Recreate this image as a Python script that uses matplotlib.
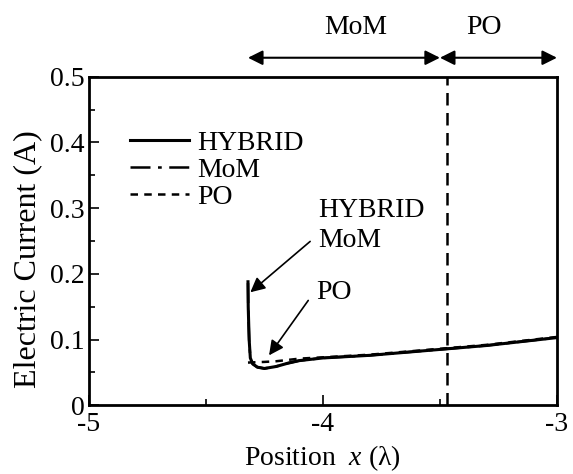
import glob
import matplotlib
matplotlib.use("Agg")
import matplotlib.pyplot as plt
from matplotlib import font_manager
from matplotlib.ticker import MultipleLocator

# pick a Times-like serif font
serif_name = None
for path in glob.glob("/usr/share/fonts/**/LiberationSerif-Regular.ttf", recursive=True) + \
        glob.glob("/usr/**/fonts/**/LiberationSerif-Regular.ttf", recursive=True):
    font_manager.fontManager.addfont(path)
    for extra in ("Bold", "Italic", "BoldItalic"):
        for p in glob.glob(path.replace("Regular", extra)):
            font_manager.fontManager.addfont(p)
    serif_name = font_manager.FontProperties(fname=path).get_name()
    break
if serif_name is None:
    names = {f.name for f in font_manager.fontManager.ttflist}
    serif_name = "Liberation Serif" if "Liberation Serif" in names else "STIXGeneral"

plt.rcParams["font.family"] = [serif_name, "DejaVu Serif"]
plt.rcParams["mathtext.fontset"] = "custom"
plt.rcParams["mathtext.it"] = serif_name + ":italic"
plt.rcParams["mathtext.rm"] = serif_name
plt.rcParams["axes.unicode_minus"] = False

# Data
x_hybrid = [-4.32, -4.319, -4.315, -4.31, -4.30, -4.28, -4.25, -4.20, -4.15, -4.10,
            -4.00, -3.90, -3.80, -3.70, -3.60, -3.50, -3.40, -3.30, -3.20, -3.10, -3.00]
y_hybrid = [0.188, 0.150, 0.100, 0.072, 0.063, 0.058, 0.056, 0.059, 0.064, 0.068,
            0.072, 0.074, 0.076, 0.079, 0.082, 0.085, 0.088, 0.091, 0.095, 0.099, 0.103]

x_mom = x_hybrid
y_mom = [0.186, 0.148, 0.099, 0.072, 0.063, 0.058, 0.056, 0.059, 0.064, 0.068,
         0.072, 0.074, 0.076, 0.079, 0.082, 0.085, 0.088, 0.091, 0.095, 0.099, 0.103]

x_po = [-4.32, -4.25, -4.20, -4.15, -4.10, -4.00, -3.90, -3.80, -3.70, -3.60,
        -3.50, -3.40, -3.30, -3.20, -3.10, -3.00]
y_po = [0.065, 0.066, 0.067, 0.069, 0.071, 0.073, 0.075, 0.077, 0.080, 0.083,
        0.086, 0.089, 0.092, 0.096, 0.100, 0.104]

x_boundary = -3.47          # MoM / PO boundary (dashed vertical line)
mom_region = (-4.32, -3.5)
po_region = (-3.5, -3.0)

fs = 20

fig = plt.figure(figsize=(5.73, 4.74), dpi=100)
ax = fig.add_axes([0.155, 0.145, 0.817, 0.693])

ax.plot(x_hybrid, y_hybrid, "k-", lw=2.2, label="HYBRID")
ax.plot(x_mom, y_mom, "k-.", lw=1.8, label="MoM", dashes=(8, 3, 1.5, 3))
ax.plot(x_po, y_po, "k--", lw=1.8, label="PO", dashes=(3, 2.5))
ax.axvline(x_boundary, color="k", lw=1.8, dashes=(5, 3))

ax.set_xlim(-5, -3)
ax.set_ylim(0, 0.5)
ax.xaxis.set_major_locator(MultipleLocator(1))
ax.xaxis.set_minor_locator(MultipleLocator(0.5))
ax.yaxis.set_major_locator(MultipleLocator(0.1))
ax.yaxis.set_minor_locator(MultipleLocator(0.05))
ax.yaxis.set_major_formatter(plt.FuncFormatter(lambda v, p: "0" if v == 0 else f"{v:.1f}"))
ax.tick_params(which="both", direction="in", labelsize=fs, width=1.2)
ax.tick_params(which="major", length=7)
ax.tick_params(which="minor", length=4)
ax.tick_params(axis="x", pad=5)
ax.tick_params(axis="y", pad=3)
for s in ax.spines.values():
    s.set_linewidth(2)

ax.set_xlabel(r"Position  $x$ (λ)", fontsize=fs, labelpad=4)
ax.set_ylabel("Electric Current (A)", fontsize=23)
ax.yaxis.set_label_coords(-0.1, 0.445)

ax.legend(loc="upper left", bbox_to_anchor=(0.065, 0.87), frameon=False, fontsize=fs,
          handlelength=2.1, handletextpad=0.3, labelspacing=0.05, borderaxespad=0)

# annotations inside the plot
ax.annotate("HYBRID\nMoM", xy=(-4.31, 0.172), xytext=(-4.02, 0.274), fontsize=fs,
            ha="left", va="center", linespacing=1.25,
            arrowprops=dict(arrowstyle="-|>", color="k", lw=1.2, mutation_scale=22,
                            shrinkA=5, shrinkB=0, relpos=(0, 0.33)))
ax.annotate("PO", xy=(-4.23, 0.076), xytext=(-4.03, 0.172), fontsize=fs,
            ha="left", va="center",
            arrowprops=dict(arrowstyle="-|>", color="k", lw=1.2, mutation_scale=22,
                            shrinkA=6, shrinkB=0, relpos=(0, 0.6)))

# region arrows above the axes
trans = ax.get_xaxis_transform()
ax.annotate("", xy=(mom_region[0], 1.058), xytext=(mom_region[1], 1.058), xycoords=trans,
            textcoords=trans, annotation_clip=False,
            arrowprops=dict(arrowstyle="<|-|>", color="k", lw=1.5, mutation_scale=22,
                            shrinkA=0, shrinkB=0))
ax.annotate("", xy=(po_region[0], 1.058), xytext=(po_region[1], 1.058), xycoords=trans,
            textcoords=trans, annotation_clip=False,
            arrowprops=dict(arrowstyle="<|-|>", color="k", lw=1.5, mutation_scale=22,
                            shrinkA=0, shrinkB=0))
ax.text(-3.86, 1.15, "MoM", transform=trans, fontsize=fs, ha="center", va="center")
ax.text(-3.31, 1.15, "PO", transform=trans, fontsize=fs, ha="center", va="center")

fig.savefig("out.png", dpi=100)
